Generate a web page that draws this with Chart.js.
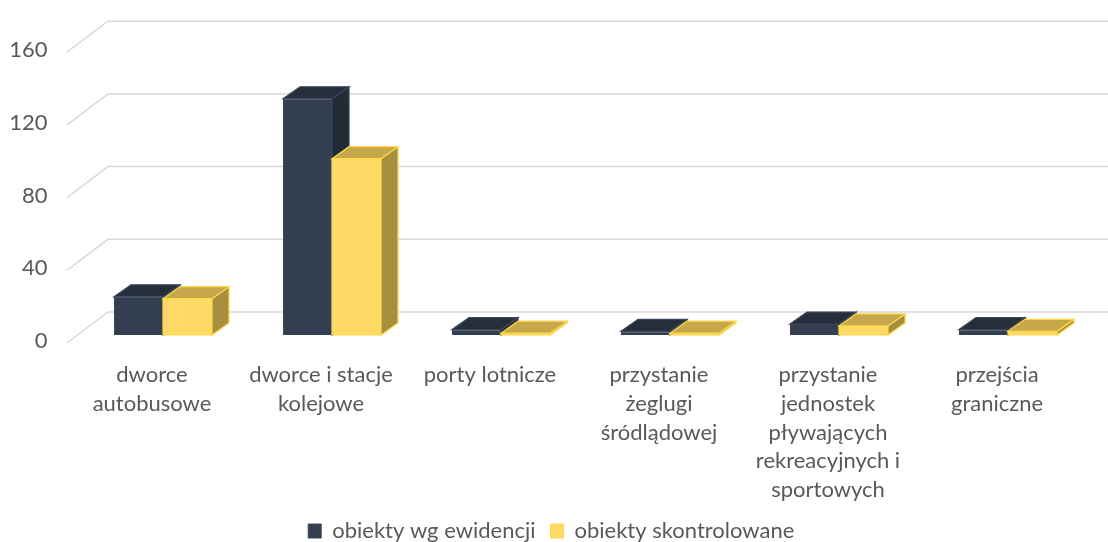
<!DOCTYPE html>
<html>
<head>
<meta charset="utf-8">
<script src="https://cdn.jsdelivr.net/npm/chart.js@4"></script>
<style>
  html, body { margin: 0; padding: 0; background: #fff; }
</style>
</head>
<body>
<canvas id="chart" width="1108" height="542"></canvas>
<script>
// categories and values
var categories = [
  ['dworce', 'autobusowe'],
  ['dworce i stacje', 'kolejowe'],
  ['porty lotnicze'],
  ['przystanie', 'żeglugi', 'śródlądowej'],
  ['przystanie', 'jednostek', 'pływających', 'rekreacyjnych i', 'sportowych'],
  ['przejścia', 'graniczne']
];
var wgEwidencji = [21, 130, 3, 2, 6, 3];
var skontrolowane = [20, 97, 1, 1, 5, 2];
var yTicks = [0, 40, 80, 120, 160];

var DX = 17, DY = 12;

// face colours for each series: front, top, side, border
var faces = [
  { front: '#333f50', top: '#262e3b', side: '#222a35', border: '#3c4759' },
  { front: '#ffd966', top: '#c6a84a', side: '#a68f3e', border: '#ffd84a' }
];

function poly(ctx, pts, fill, stroke) {
  ctx.beginPath();
  ctx.moveTo(pts[0][0], pts[0][1]);
  for (var i = 1; i < pts.length; i++) ctx.lineTo(pts[i][0], pts[i][1]);
  ctx.closePath();
  ctx.fillStyle = fill;
  ctx.fill();
  ctx.lineWidth = 1.2;
  ctx.strokeStyle = stroke;
  ctx.stroke();
}

// grid on the back wall plus the diagonal lines to the front
var wallGrid = {
  id: 'wallGrid',
  beforeDatasetsDraw: function(chart) {
    var ctx = chart.ctx;
    var y = chart.scales.y;
    var left = chart.chartArea.left;
    ctx.save();
    ctx.strokeStyle = '#d9d9d9';
    ctx.lineWidth = 1.5;
    y.ticks.forEach(function(t) {
      var py = y.getPixelForValue(t.value);
      ctx.beginPath();
      ctx.moveTo(left - 11.5, py + 8);
      ctx.lineTo(left + 29.5, py - 23);
      ctx.lineTo(chart.width, py - 23);
      ctx.stroke();
    });
    ctx.restore();
  }
};

// top and side faces of the columns
var columns3d = {
  id: 'columns3d',
  afterDatasetsDraw: function(chart) {
    var ctx = chart.ctx;
    var metas = [chart.getDatasetMeta(0), chart.getDatasetMeta(1)];
    ctx.save();
    for (var i = 0; i < categories.length; i++) {
      metas.forEach(function(meta, d) {
        var el = meta.data[i];
        var p = el.getProps(['x', 'y', 'base', 'width'], true);
        var l = p.x - p.width / 2, r = p.x + p.width / 2;
        var f = faces[d];
        if (d > 0) {
          poly(ctx, [[l, p.y], [r, p.y], [r, p.base], [l, p.base]], f.front, f.border);
        }
        poly(ctx, [[r, p.y], [r + DX, p.y - DY], [r + DX, p.base - DY], [r, p.base]], f.side, f.border);
        poly(ctx, [[l, p.y], [l + DX, p.y - DY], [r + DX, p.y - DY], [r, p.y]], f.top, f.border);
      });
    }
    ctx.restore();
  }
};

var ctx = document.getElementById('chart').getContext('2d');
new Chart(ctx, {
  type: 'bar',
  data: {
    labels: categories,
    datasets: [{
      label: 'obiekty wg ewidencji',
      data: wgEwidencji,
      backgroundColor: faces[0].front,
      borderColor: faces[0].border,
      borderWidth: 1
    }, {
      label: 'obiekty skontrolowane',
      data: skontrolowane,
      backgroundColor: faces[1].front,
      borderColor: faces[1].border,
      borderWidth: 1
    }]
  },
  options: {
    responsive: false,
    animation: false,
    layout: { padding: { top: 41, bottom: -10, left: 10, right: 15.5 } },
    datasets: { bar: { categoryPercentage: 0.58, barPercentage: 1 } },
    plugins: {
      tooltip: { enabled: false },
      legend: {
        position: 'bottom',
        labels: {
          boxWidth: 13,
          boxHeight: 14,
          padding: 15,
          color: '#595959',
          font: { family: 'Lato', size: 22 }
        }
      }
    },
    scales: {
      x: {
        grid: { display: false, drawTicks: false },
        border: { display: false },
        ticks: {
          color: '#595959',
          font: { family: 'Lato', size: 22, lineHeight: 1.3 },
          padding: 26,
          labelOffset: -11,
          maxRotation: 0,
          autoSkip: false
        },
        afterFit: function(scale) { scale.height = 170; }
      },
      y: {
        min: 0,
        max: 160,
        grid: { display: false, drawTicks: false },
        border: { display: false },
        afterBuildTicks: function(scale) {
          scale.ticks = yTicks.map(function(v) { return { value: v }; });
        },
        ticks: {
          color: '#595959',
          font: { family: 'Lato', size: 22 },
          padding: 31,
          labelOffset: 6
        },
        afterFit: function(scale) { scale.width = 68.5; }
      }
    }
  },
  plugins: [wallGrid, columns3d]
});
</script>
</body>
</html>
